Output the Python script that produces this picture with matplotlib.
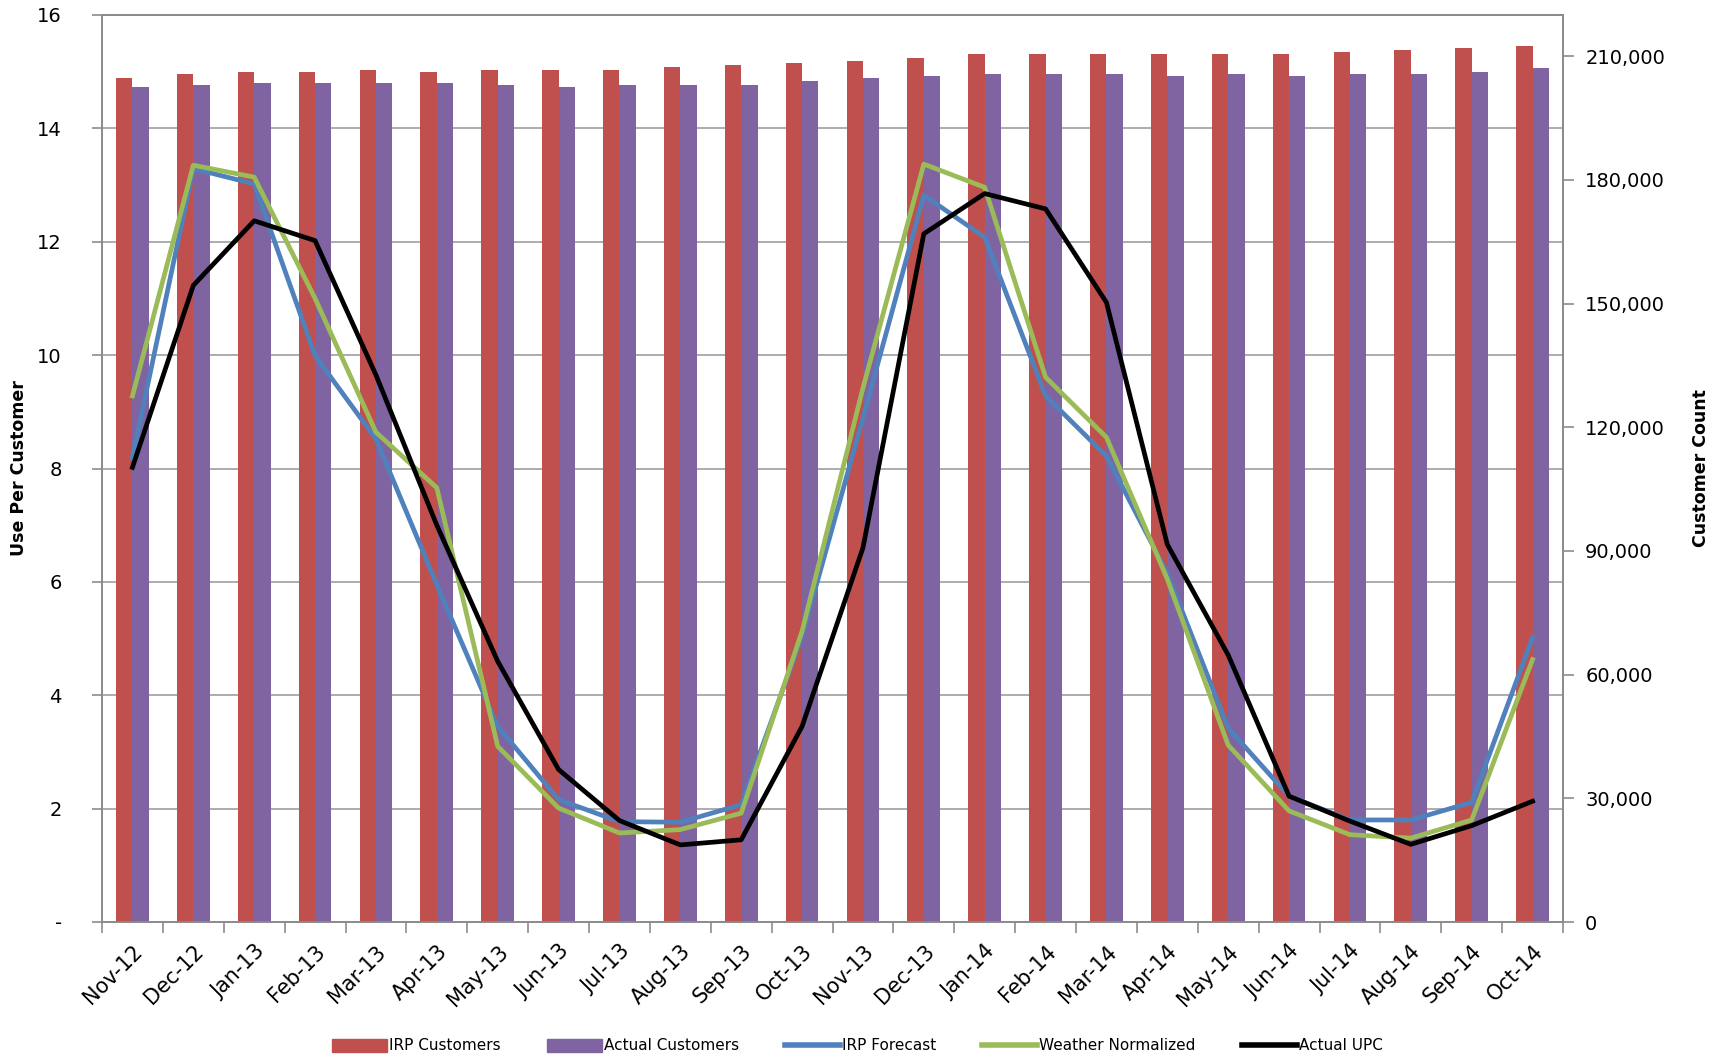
import numpy as np
import matplotlib
matplotlib.use("Agg")
import matplotlib.pyplot as plt
from matplotlib.ticker import FuncFormatter, FixedLocator
from matplotlib.patches import Patch
from matplotlib.lines import Line2D

# ---- data ----
months = ['Nov-12', 'Dec-12', 'Jan-13', 'Feb-13', 'Mar-13', 'Apr-13', 'May-13', 'Jun-13',
          'Jul-13', 'Aug-13', 'Sep-13', 'Oct-13', 'Nov-13', 'Dec-13', 'Jan-14', 'Feb-14',
          'Mar-14', 'Apr-14', 'May-14', 'Jun-14', 'Jul-14', 'Aug-14', 'Sep-14', 'Oct-14']

irp_customers = [204810, 205780, 206120, 206120, 206600, 206120, 206600, 206600,
                 206600, 207480, 207960, 208380, 208790, 209660, 210560, 210560,
                 210560, 210560, 210560, 210560, 211050, 211460, 211950, 212430]
actual_customers = [202620, 203030, 203520, 203520, 203520, 203520, 203030, 202620,
                    203030, 203030, 203030, 203930, 204810, 205290, 205780, 205780,
                    205780, 205290, 205780, 205290, 205780, 205780, 206190, 207090]

irp_forecast = [8.2, 13.29, 13.02, 9.99, 8.52, 5.95, 3.45, 2.16, 1.77, 1.76, 2.07, 5.04,
                8.89, 12.82, 12.08, 9.28, 8.22, 6.15, 3.42, 2.22, 1.80, 1.80, 2.11, 5.02]
weather_normalized = [9.28, 13.35, 13.14, 11.0, 8.64, 7.66, 3.10, 2.01, 1.57, 1.63, 1.92, 5.13,
                      9.42, 13.37, 12.96, 9.61, 8.55, 6.05, 3.12, 1.96, 1.54, 1.48, 1.80, 4.63]
actual_upc = [8.02, 11.23, 12.37, 12.02, 9.65, 7.0, 4.6, 2.69, 1.79, 1.36, 1.45, 3.45,
              6.6, 12.14, 12.85, 12.58, 10.93, 6.66, 4.71, 2.22, 1.78, 1.37, 1.70, 2.13]

red = '#C0504D'
purple = '#8064A2'
blue = '#4F81BD'
green = '#9BBB59'
grid_gray = '#a6a6a6'
spine_gray = '#8c8c8c'

plt.rcParams['font.family'] = 'DejaVu Sans'

fig = plt.figure(figsize=(17.25, 10.58), dpi=100)
ax = fig.add_axes([102 / 1725, 1 - 922 / 1058, (1563 - 102) / 1725, (922 - 15) / 1058])
ax2 = ax.twinx()
ax.set_zorder(2)
ax2.set_zorder(1)
ax.patch.set_visible(False)

x = np.arange(len(months))
w = 0.27

# bars on the customer-count axis
ax2.bar(x - w / 2, irp_customers, width=w, color=red, zorder=3)
ax2.bar(x + w / 2, actual_customers, width=w, color=purple, zorder=3)
ax2.set_ylim(0, 220000)
ax2.set_yticks(np.arange(0, 210001, 30000))
ax2.yaxis.set_major_formatter(FuncFormatter(lambda v, p: '0' if v == 0 else f'{v:,.0f}'))
# horizontal gridlines follow the left axis (every 2 units), drawn behind the bars
ax2.yaxis.set_minor_locator(FixedLocator(np.arange(2, 17, 2) * 220000 / 16))
ax2.grid(which='minor', axis='y', color=grid_gray, lw=1.3, zorder=0)
ax2.set_axisbelow(True)
ax2.tick_params(axis='y', which='minor', length=0)
ax2.tick_params(axis='y', which='major', length=8, width=1.2, color=spine_gray,
                labelsize=14, pad=8)
ax2.set_ylabel('Customer Count', fontsize=12.5, fontweight='bold')
ax2.yaxis.set_label_coords((1692 - 102) / 1461, 0.5)

# lines on the use-per-customer axis
ax.plot(x, irp_forecast, color=blue, lw=3.4, zorder=4)
ax.plot(x, weather_normalized, color=green, lw=3.4, zorder=5)
ax.plot(x, actual_upc, color='black', lw=3.4, zorder=6)
ax.set_ylim(0, 16)
ax.set_yticks(np.arange(0, 17, 2))
ax.yaxis.set_major_formatter(FuncFormatter(lambda v, p: '-' if v == 0 else f'{v:.0f}'))
ax.tick_params(axis='y', length=7, width=1.2, color=spine_gray, labelsize=14, pad=22)
ax.set_ylabel('Use Per Customer', fontsize=12.5, fontweight='bold')
ax.yaxis.set_label_coords((28 - 102) / 1461, 0.5)

ax.set_xlim(-0.5, len(months) - 0.5)
ax.set_xticks(x)
ax.set_xticklabels(months, rotation=45, ha='right', rotation_mode='anchor', fontsize=15)
ax.set_xticks(np.arange(-0.5, len(months), 1), minor=True)
ax.tick_params(axis='x', which='major', length=0, pad=14)
ax.tick_params(axis='x', which='minor', length=8, width=1.2, color=spine_gray)

for a in (ax, ax2):
    for s in a.spines.values():
        s.set_color(spine_gray)
        s.set_linewidth(1.3)

handles = [Patch(color=red), Patch(color=purple),
           Line2D([], [], color=blue, lw=4), Line2D([], [], color=green, lw=4),
           Line2D([], [], color='black', lw=4)]
labels = ['IRP Customers', 'Actual Customers', 'IRP Forecast', 'Weather Normalized', 'Actual UPC']
fig.legend(handles, labels, loc='center', bbox_to_anchor=(0.497, 1 - 1046 / 1058), ncol=5,
           frameon=False, fontsize=11, handlelength=3.6, handleheight=0.9,
           handletextpad=0.15, columnspacing=3.0)

fig.savefig('out.png', dpi=100)
